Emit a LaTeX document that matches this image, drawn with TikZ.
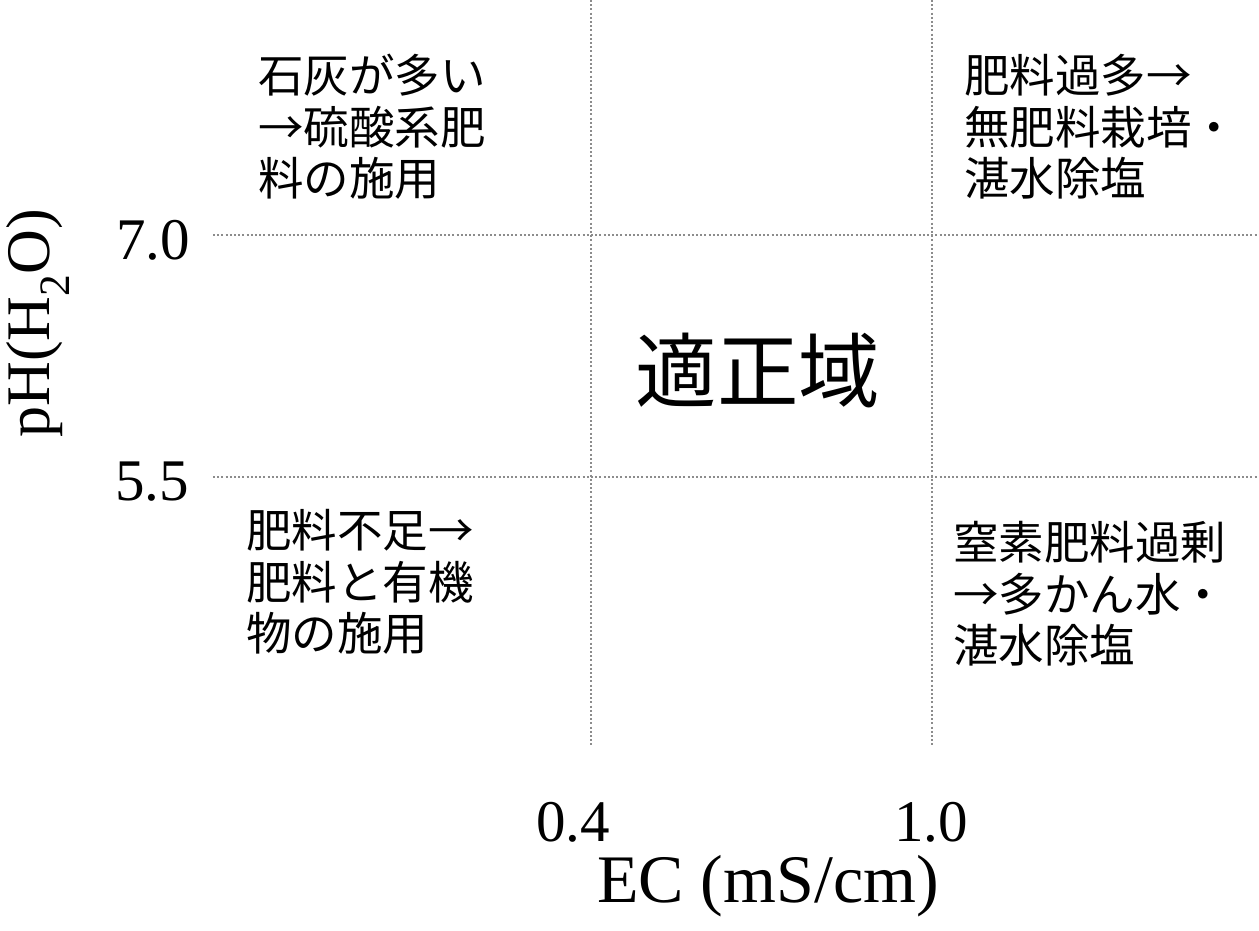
\documentclass[tikz,border=0pt]{standalone}
\usepackage{fontspec}
\setmainfont{Liberation Serif}
\newfontfamily\jp{Noto Sans CJK JP}
\begin{document}
\begin{tikzpicture}[x=1pt,y=-1pt,
  grid/.style={draw=gray!90,line width=2.2pt,dash pattern=on 2pt off 2.2pt},
  jptext/.style={font=\jp\fontsize{45.5}{51.5}\selectfont,align=left,anchor=west,inner sep=0pt},
  tick/.style={font=\fontsize{59}{61}\selectfont,inner sep=0pt},
  axis/.style={font=\fontsize{68}{70}\selectfont,inner sep=0pt}]
\useasboundingbox (0,0) rectangle (1259,931);
% grid lines
\coordinate (v1t) at (591,0);
\coordinate (v1b) at (591,745);
\coordinate (v2t) at (932,0);
\coordinate (v2b) at (932,745);
\coordinate (h1l) at (213,235);
\coordinate (h1r) at (1259,235);
\coordinate (h2l) at (213,477);
\coordinate (h2r) at (1259,477);
\draw[grid] (v1t) -- (v1b);
\draw[grid] (v2t) -- (v2b);
\draw[grid] (h1l) -- (h1r);
\draw[grid] (h2l) -- (h2r);
% tick labels
\node[tick] (p70) at (153,240) {7.0};
\node[tick] (p55) at (152,482) {5.5};
\node[tick] (e04) at (573,822) {0.4};
\node[tick] (e10) at (931,822) {1.0};
% axis titles
\node[axis] (xlab) at (768,886) {EC (mS/cm)};
\node[font=\fontsize{62}{64}\selectfont,inner sep=0pt,rotate=90] (ylab) at (38,323) {pH(H\textsubscript{2}O)};
% quadrant texts
\node[jptext] (tl) at (258,127) {石灰が多い\\→硫酸系肥\\料の施用};
\node[jptext] (tr) at (964,127) {肥料過多→\\無肥料栽培・\\湛水除塩};
\node[jptext] (bl) at (246,582) {肥料不足→\\肥料と有機\\物の施用};
\node[jptext] (br) at (953,594) {窒素肥料過剰\\→多かん水・\\湛水除塩};
\node[font=\jp\fontsize{81.5}{84}\selectfont,inner sep=0pt] (ok) at (758,370) {適正域};
\end{tikzpicture}
\end{document}
